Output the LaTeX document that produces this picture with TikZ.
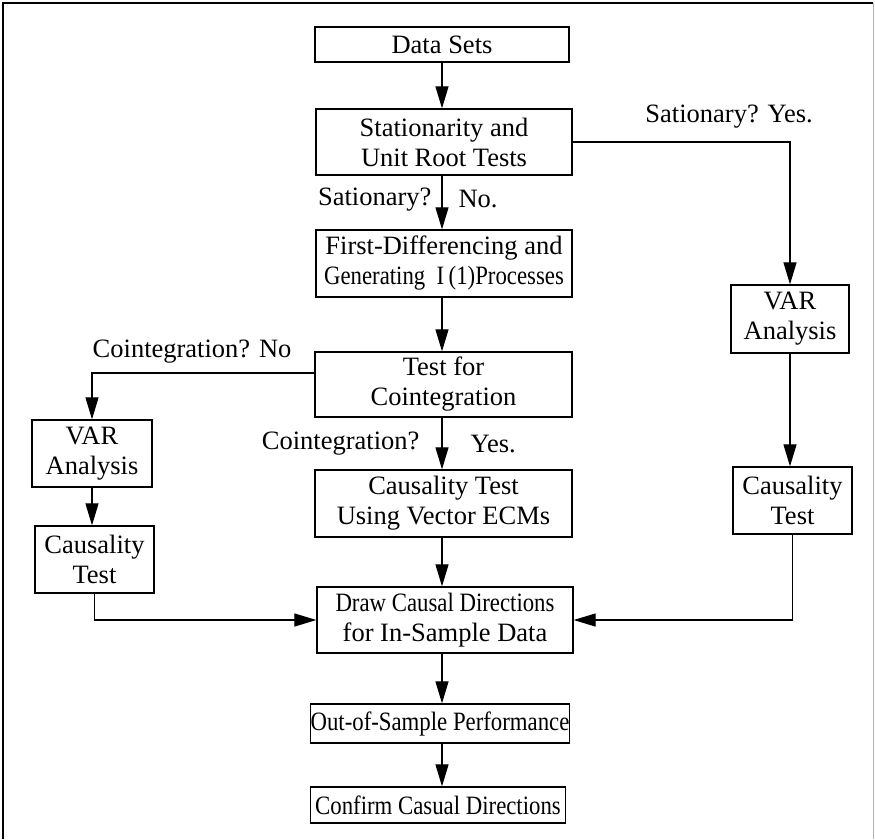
\documentclass[tikz,border=0pt]{standalone}
\usepackage{fontspec}
\setmainfont{Liberation Serif}
\newfontfamily\narrowfont[FakeStretch=0.86]{Liberation Serif}
\usetikzlibrary{arrows.meta}

\tikzset{
  flowbox/.style={draw, line width=1.3pt, align=center, inner sep=0pt,
    font=\fontsize{26.5}{30}\selectfont},
  flow/.style={line width=1.2pt, -{Triangle[length=22pt,width=13pt]}},
  lbl/.style={font=\fontsize{26.5}{30}\selectfont, inner sep=0pt},
}

\begin{document}
\begin{tikzpicture}[x=1pt,y=-1pt]
  \useasboundingbox (0,0) rectangle (875,839);
  % frame
  \draw[line width=1.2pt] (3,839) -- (3,3) -- (873,3);
  \draw[gray!60, line width=0.8pt] (873,3) -- (873,839);

  % main column
  \node[flowbox, minimum width=254, minimum height=35] (data) at (442,44.5) {Data Sets};
  \node[flowbox, minimum width=256, minimum height=66] (stat) at (444,142) {Stationarity and\\Unit Root Tests};
  \node[flowbox, minimum width=256, minimum height=67] (diff) at (444,263.5) {First-Differencing and\\{\narrowfont Generating~~I\,(1)Processes}};
  \node[flowbox, minimum width=257, minimum height=65] (coint) at (443.5,384.5) {Test for\\Cointegration};
  \node[flowbox, minimum width=257, minimum height=67] (ecm) at (443.5,503.5) {Causality Test\\Using Vector ECMs};
  \node[flowbox, minimum width=256, minimum height=66] (draw) at (445,620) {{\narrowfont Draw Causal Directions}\\for In-Sample Data};
  \node[flowbox, minimum width=255, minimum height=39] (oos) at (440,723.5) {\narrowfont Out-of-Sample Performance};
  \node[flowbox, minimum width=255, minimum height=36] (conf) at (438,805) {\narrowfont Confirm Casual Directions};

  % side columns
  \node[flowbox, minimum width=120, minimum height=67] (varl) at (92,453.5) {VAR\\Analysis};
  \node[flowbox, minimum width=119, minimum height=67] (causl) at (94.5,559.5) {Causality\\Test};
  \node[flowbox, minimum width=118, minimum height=68] (varr) at (790,319) {VAR\\Analysis};
  \node[flowbox, minimum width=119, minimum height=67] (causr) at (792.5,500.5) {Causality\\Test};

  % connectors
  \draw[flow] (data.south) -- (data.south |- stat.north);
  \draw[flow] (data.center |- stat.south) -- node[lbl, pos=0.44, left=10pt] {Sationary?}
    node[lbl, pos=0.44, right=16pt] {No.} (data.center |- diff.north);
  \draw[flow] (data.center |- diff.south) -- (data.center |- coint.north);
  \draw[flow] (data.center |- coint.south) -- node[lbl, pos=0.51, left=22pt] {Cointegration?}
    node[lbl, pos=0.51, right=28pt] {Yes.} (data.center |- ecm.north);
  \draw[flow] (data.center |- ecm.south) -- (data.center |- draw.north);
  \draw[flow] (data.center |- draw.south) -- (data.center |- oos.north);
  \draw[flow] (data.center |- oos.south) -- (data.center |- conf.north);

  \draw[flow] (stat.east) -| node[lbl, pos=0.36, above=13pt] {Sationary? Yes.} (varr.north);
  \draw[flow] (varr.south) -- (varr.south |- causr.north);
  \draw[flow] (causr.south) |- (draw.east);

  \draw[flow] ([yshift=11.5pt]coint.west) -| node[lbl, pos=0.275, above=9pt] {Cointegration? No} (varl.north);
  \draw[flow] (varl.south) -- (varl.south |- causl.north);
  \draw[flow] (causl.south) |- (draw.west);
\end{tikzpicture}
\end{document}
